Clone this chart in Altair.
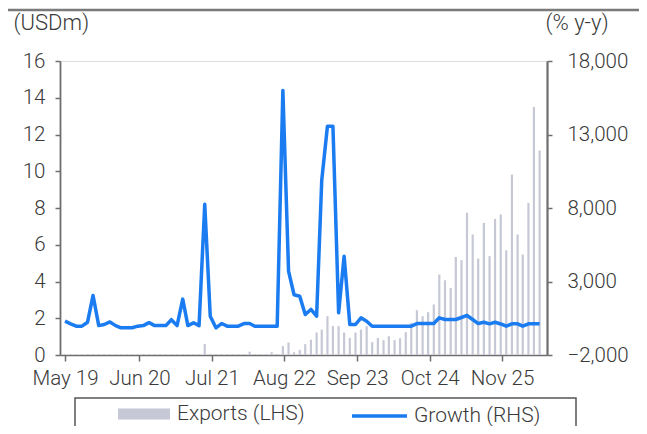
import altair as alt
import pandas as pd

# ---- data ----
months = pd.date_range("2019-05-01", periods=86, freq="MS")

exports = [
    0.05, 0.05, 0.05, 0.05, 0.05, 0.05, 0.05, 0.05, 0.05, 0.05,
    0.05, 0.05, 0.05, 0.05, 0.05, 0.05, 0.05, 0.05, 0.05, 0.05,
    0.05, 0.05, 0.05, 0.05, 0.05, 0.60, 0.05, 0.05, 0.05, 0.05,
    0.05, 0.05, 0.05, 0.18, 0.05, 0.05, 0.05, 0.15, 0.05, 0.48,
    0.68, 0.15, 0.28, 0.59, 0.83, 1.23, 1.38, 2.11, 1.57, 1.57,
    1.22, 0.93, 1.22, 1.38, 1.57, 0.70, 0.93, 0.81, 1.02, 0.81,
    0.91, 1.24, 1.75, 2.44, 2.11, 2.33, 2.75, 4.38, 4.07, 3.64,
    5.34, 5.16, 7.74, 6.56, 5.25, 7.19, 5.38, 7.41, 7.65, 5.70,
    9.82, 6.56, 5.47, 8.28, 13.50, 11.13,
]

growth = [
    300, 120, -40, -40, 230, 2050, 0, 75, 250, 0,
    -150, -150, -150, -40, 0, 200, 0, 0, 0, 400,
    0, 1800, 0, 190, 0, 8250, 640, -150, 140, -40,
    -40, -40, 140, 140, -40, -40, -40, -40, -40, 16000,
    3700, 2100, 2000, 750, 1100, 640, 9900, 13560, 13560, 870,
    4720, 75, 75, 530, 300, -40, -40, -40, -40, -40,
    -40, -40, -40, 140, 140, 140, 140, 530, 415, 415,
    415, 550, 690, 415, 140, 230, 120, 230, 110, -40,
    120, 120, -40, 120, 120, 120,
]

tick_dates = [(2019, 5, 1), (2020, 6, 10), (2021, 7, 10), (2022, 8, 8),
              (2023, 9, 10), (2024, 10, 10), (2025, 11, 8)]
left_ticks = [0, 2, 4, 6, 8, 10, 12, 14, 16]
right_ticks = [-2000, 3000, 8000, 13000, 18000]
series_names = ["Exports (LHS)", "Growth (RHS)"]

df = pd.DataFrame({"month": months, "exports": exports, "growth": growth})

FONT = "Roboto"
TXT = "#3a3a3a"
AX = "#6e6e6e"
BAR = "#C6C8D5"
LINE = "#1a7cf0"
LBL = 20.5
TTL = 22

x_enc = alt.X(
    "month:T",
    scale=alt.Scale(domain=[alt.DateTime(year=2019, month=5, date=1),
                            alt.DateTime(year=2026, month=6, date=14)]),
    axis=alt.Axis(
        values=[alt.DateTime(year=y, month=m, date=d) for y, m, d in tick_dates],
        format="%b %y", title=None, grid=False, tickSize=6, labelPadding=7,
        domainColor=AX, tickColor=AX, domainWidth=1.5, tickWidth=1.5,
        labelFontSize=LBL, labelColor=TXT, labelFont=FONT, labelFontWeight=300,
        labelFlush=False, labelOverlap=False,
    ),
)

bars = alt.Chart(df).transform_calculate(series="'Exports (LHS)'").mark_bar(size=2.2).encode(
    x=x_enc,
    y=alt.Y(
        "exports:Q",
        scale=alt.Scale(domain=[0, 16], nice=False),
        axis=alt.Axis(
            values=left_ticks, orient="left", grid=False, title="(USDm)",
            titleAngle=0, titleAlign="left", titleBaseline="alphabetic",
            titleX=-47, titleY=-32, titleFontSize=TTL, titleFontWeight=300,
            titleFont=FONT, titleColor=TXT,
            tickSize=5, labelPadding=10, domainColor=AX, tickColor=AX,
            domainWidth=1.8, tickWidth=1.5, labelFontSize=LBL, labelColor=TXT,
            labelFont=FONT, labelFontWeight=300,
        ),
    ),
    color=alt.Color(
        "series:N",
        scale=alt.Scale(domain=[series_names[0]], range=[BAR]),
        title=None,
        legend=alt.Legend(
            orient="none", legendX=58, legendY=327, direction="horizontal",
            symbolType="M-1,-0.21H1V0.21H-1Z", symbolSize=2704, symbolStrokeWidth=0,
            labelFontSize=21, labelFont=FONT, labelFontWeight=300, labelColor=TXT,
            labelOffset=7, padding=0,
        ),
    ),
)

line = alt.Chart(df).transform_calculate(series="'Growth (RHS)'").mark_line(
    strokeWidth=3.5, strokeJoin="round"
).encode(
    x=x_enc,
    y=alt.Y(
        "growth:Q",
        scale=alt.Scale(domain=[-2000, 18000], nice=False),
        axis=alt.Axis(
            values=right_ticks, format=",.0f", orient="right", grid=False, title="(% y-y)",
            titleAngle=0, titleAlign="left", titleBaseline="alphabetic",
            titleX=-2, titleY=-32, titleFontSize=TTL, titleFontWeight=300,
            titleFont=FONT, titleColor=TXT,
            tickSize=5, labelPadding=15, domainColor=AX, tickColor=AX,
            domainWidth=2.2, tickWidth=1.5, labelFontSize=LBL, labelColor=TXT,
            labelFont=FONT, labelFontWeight=300,
        ),
    ),
    stroke=alt.Stroke(
        "series:N",
        scale=alt.Scale(domain=[series_names[1]], range=[LINE]),
        title=None,
        legend=alt.Legend(
            orient="none", legendX=290, legendY=325.5, direction="horizontal",
            symbolType="stroke", symbolSize=3025, symbolStrokeWidth=3.5,
            labelFontSize=21, labelFont=FONT, labelFontWeight=300, labelColor=TXT,
            labelOffset=5, padding=0,
        ),
    ),
)

deco = alt.Data(values=[{"k": 0}])
frame = alt.Chart(deco).mark_rect(fill="transparent", stroke="#555555", strokeWidth=1.5).encode(
    x=alt.value(15), x2=alt.value(516), y=alt.value(337), y2=alt.value(380)
)
topline = alt.Chart(deco).mark_rule(color="#7a7a7a", strokeWidth=2.5).encode(
    x=alt.value(-60), x2=alt.value(590), y=alt.value(-51)
)

chart = alt.layer(frame, topline, bars, line).resolve_scale(
    y="independent"
).properties(
    width=487, height=294,
    padding={"left": 52, "top": 53, "right": 92, "bottom": 71},
    autosize=alt.AutoSizeParams(type="none"),
).configure_view(strokeWidth=0).configure(font=FONT)

chart.save("out.html", embed_options={"renderer": "svg", "actions": False})
